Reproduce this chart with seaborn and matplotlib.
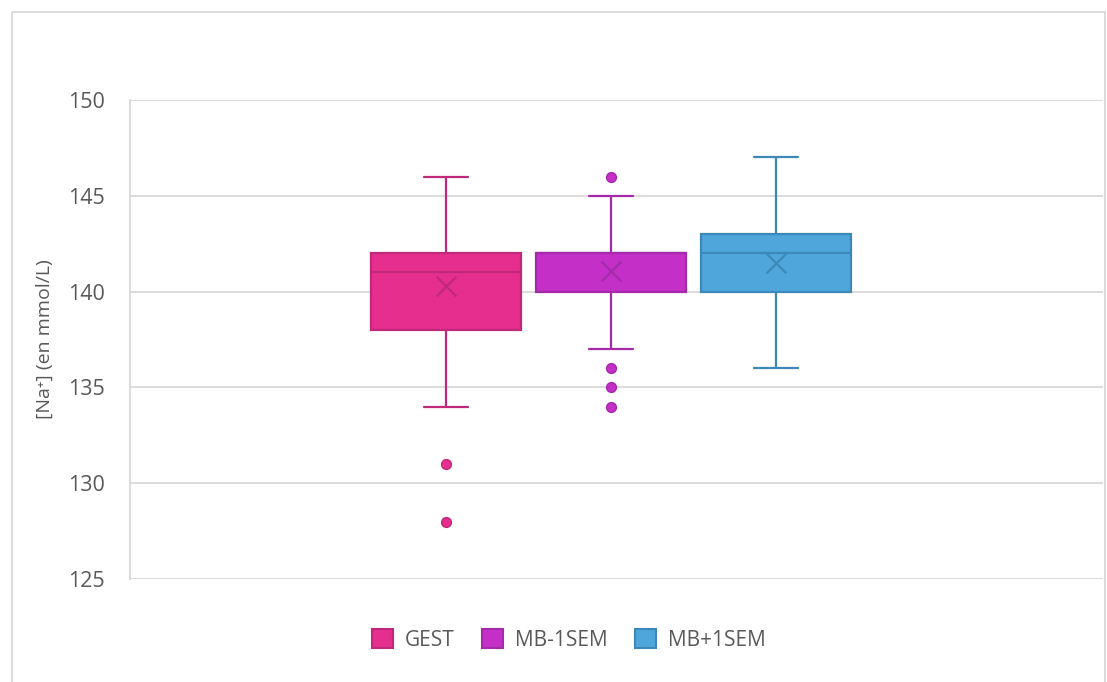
import pandas as pd
import matplotlib
matplotlib.use('Agg')
from matplotlib import pyplot as plt
from matplotlib.patches import Patch, Rectangle
import seaborn as sns

# values (mmol/L)
groups = ['GEST', 'MB-1SEM', 'MB+1SEM']
whisker_low = [134, 137, 136]
q1 = [138, 140, 140]
median = [141, 142, 142]
q3 = [142, 142, 143]
whisker_high = [146, 145, 147]
means = [140.3, 141.1, 141.5]
outliers = [[131, 128], [146, 136, 135, 134], []]

y_ticks = [125, 130, 135, 140, 145, 150]
y_label = '[Na\u207a] (en mmol/L)'

fill_colors = ['#E52E8D', '#C42FC8', '#4EA6DB']
edge_colors = ['#C0297A', '#A52AAA', '#3C88B8']
text_color = '#595959'
grid_color = '#D9D9D9'

sns.set_theme(style='white')
plt.rcParams['font.family'] = ['Open Sans', 'DejaVu Sans']

fig = plt.figure(figsize=(11.07, 6.82), dpi=100)
ax = fig.add_axes([130 / 1107, 103 / 682, 973 / 1107, 479 / 682])

positions = list(range(len(groups)))
stats = []
for i, g in enumerate(groups):
    stats.append({'label': g, 'whislo': whisker_low[i], 'q1': q1[i],
                  'med': median[i], 'q3': q3[i], 'whishi': whisker_high[i],
                  'fliers': []})

bp = ax.bxp(stats, positions=positions, widths=0.91, capwidths=0.27,
            showfliers=False, patch_artist=True, zorder=3)
for i in range(len(groups)):
    bp['boxes'][i].set(facecolor=fill_colors[i], edgecolor=edge_colors[i], linewidth=1.6)
    bp['medians'][i].set(color=edge_colors[i], linewidth=1.6)
    for art in bp['whiskers'][2 * i:2 * i + 2] + bp['caps'][2 * i:2 * i + 2]:
        art.set(color=edge_colors[i], linewidth=1.6)

# outliers and means
for i, g in enumerate(groups):
    if outliers[i]:
        pts = pd.DataFrame({'x': [positions[i]] * len(outliers[i]), 'y': outliers[i]})
        sns.scatterplot(data=pts, x='x', y='y', ax=ax, s=50, color=fill_colors[i],
                        edgecolor=edge_colors[i], linewidth=1, zorder=4, legend=False)
    m = pd.DataFrame({'x': [positions[i]], 'y': [means[i]]})
    sns.scatterplot(data=m, x='x', y='y', ax=ax, marker='x', s=200, color=edge_colors[i],
                    linewidth=1.6, zorder=5, legend=False)

ax.set_xlim(-1.915, 3.98)
ax.set_ylim(125, 150)
ax.set_yticks(y_ticks)
ax.set_xticks([])
ax.set_xlabel('')
ax.set_ylabel(y_label, fontsize=14, color=text_color, labelpad=10)
ax.tick_params(axis='y', labelsize=15.5, labelcolor=text_color, length=0, pad=18)
ax.yaxis.grid(True, color=grid_color, linewidth=1.3, zorder=0)
ax.set_axisbelow(True)
for side in ['top', 'right', 'bottom']:
    ax.spines[side].set_visible(False)
ax.spines['left'].set_color(grid_color)
ax.spines['left'].set_linewidth(1.3)

handles = [Patch(facecolor=fill_colors[i], edgecolor=edge_colors[i], linewidth=1.5, label=g)
           for i, g in enumerate(groups)]
fig.legend(handles=handles, loc='center', bbox_to_anchor=(569 / 1107, 1 - 640 / 682),
           ncol=3, frameon=False, fontsize=15, labelcolor=text_color,
           handlelength=1.0, handleheight=1.0, handletextpad=0.6, columnspacing=1.3)

# outer chart border
fig.patches.append(Rectangle((12 / 1107, -0.05), 1093 / 1107, 1 - 12 / 682 + 0.05,
                             transform=fig.transFigure, fill=False,
                             edgecolor=grid_color, linewidth=1.3))

fig.savefig('out.png', dpi=100)
plt.close(fig)
